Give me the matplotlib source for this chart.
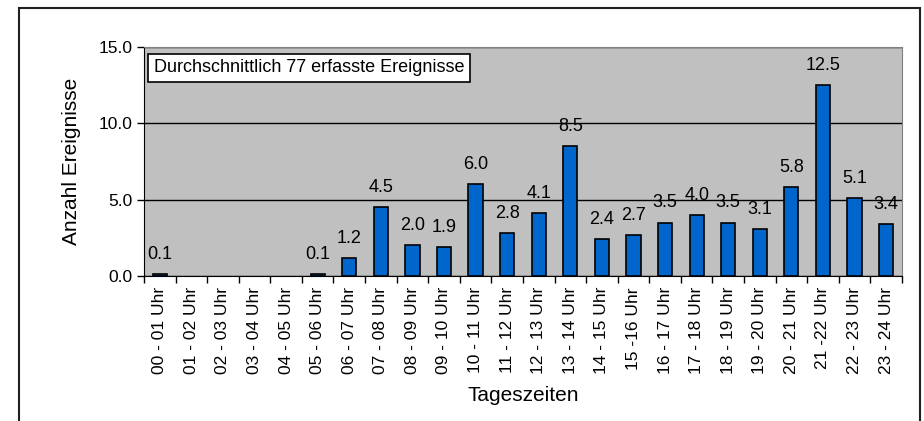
import matplotlib.pyplot as plt
from matplotlib.patches import Rectangle

# Daten
zeiten = ['00 - 01 Uhr', '01 - 02 Uhr', '02 - 03 Uhr', '03 - 04 Uhr', '04 - 05 Uhr',
          '05 - 06 Uhr', '06 - 07 Uhr', '07 - 08 Uhr', '08 - 09 Uhr', '09 - 10 Uhr',
          '10 - 11 Uhr', '11 - 12 Uhr', '12 - 13 Uhr', '13 - 14 Uhr', '14 - 15 Uhr',
          '15 -16 Uhr', '16 - 17 Uhr', '17 - 18 Uhr', '18 - 19 Uhr', '19 - 20 Uhr',
          '20 - 21 Uhr', '21 -22 Uhr', '22 - 23 Uhr', '23 - 24 Uhr']
werte = [0.1, 0, 0, 0, 0, 0.1, 1.2, 4.5, 2.0, 1.9, 6.0, 2.8, 4.1, 8.5, 2.4,
         2.7, 3.5, 4.0, 3.5, 3.1, 5.8, 12.5, 5.1, 3.4]
y_ticks = [0, 5, 10, 15]
hinweis = 'Durchschnittlich 77 erfasste Ereignisse'

plt.rcParams['font.family'] = ['Liberation Sans', 'DejaVu Sans']

fig = plt.figure(figsize=(9.24, 4.21), dpi=100)
ax = fig.add_axes([0.1558, 0.3444, 0.8203, 0.5439])

# Rahmen um das Diagramm
fig.patches.append(Rectangle((19 / 924, -0.2), 901 / 924, 1.2 - 8 / 421,
                             transform=fig.transFigure, fill=False,
                             edgecolor='#202020', linewidth=1.5, clip_on=False))

ax.set_facecolor('#C0C0C0')
x = range(len(werte))
# Nullwerte ohne Rand zeichnen (wie im Original nicht sichtbar)
randbreiten = [1.2 if v > 0 else 0 for v in werte]
ax.bar(x, werte, width=0.45, color='#0066CC', edgecolor='black',
       linewidth=randbreiten, zorder=3)

for i, v in enumerate(werte):
    if v > 0:
        ax.annotate(f'{v:.1f}', (i, v), xytext=(0, 8), textcoords='offset points',
                    ha='center', va='bottom', fontsize=13)

ax.set_xlim(-0.5, len(werte) - 0.5)
ax.set_ylim(0, 15)
ax.set_yticks(y_ticks)
ax.set_yticklabels([f'{t:.1f}' for t in y_ticks], fontsize=12.5)
ax.yaxis.grid(True, color='black', linewidth=1)
ax.set_axisbelow(True)

ax.set_xticks(list(x))
ax.set_xticklabels(zeiten, rotation=90, fontsize=12.5)
ax.set_xticks([i - 0.5 for i in range(len(werte) + 1)], minor=True)
ax.tick_params(axis='x', which='major', length=0, pad=8)
ax.tick_params(axis='x', which='minor', length=5, width=1)
ax.tick_params(axis='y', length=5, width=1)

ax.spines['left'].set_color('black')
ax.spines['bottom'].set_color('black')
ax.spines['top'].set_color('#808080')
ax.spines['right'].set_color('#808080')

ax.set_ylabel('Anzahl Ereignisse', fontsize=15, labelpad=12)
ax.set_xlabel('Tageszeiten', fontsize=15, labelpad=8)

ax.text(0.013, 0.947, hinweis, transform=ax.transAxes, fontsize=13,
        ha='left', va='top',
        bbox=dict(boxstyle='square,pad=0.3', facecolor='white', edgecolor='black', linewidth=1.2))

fig.savefig('out.png', dpi=100)
